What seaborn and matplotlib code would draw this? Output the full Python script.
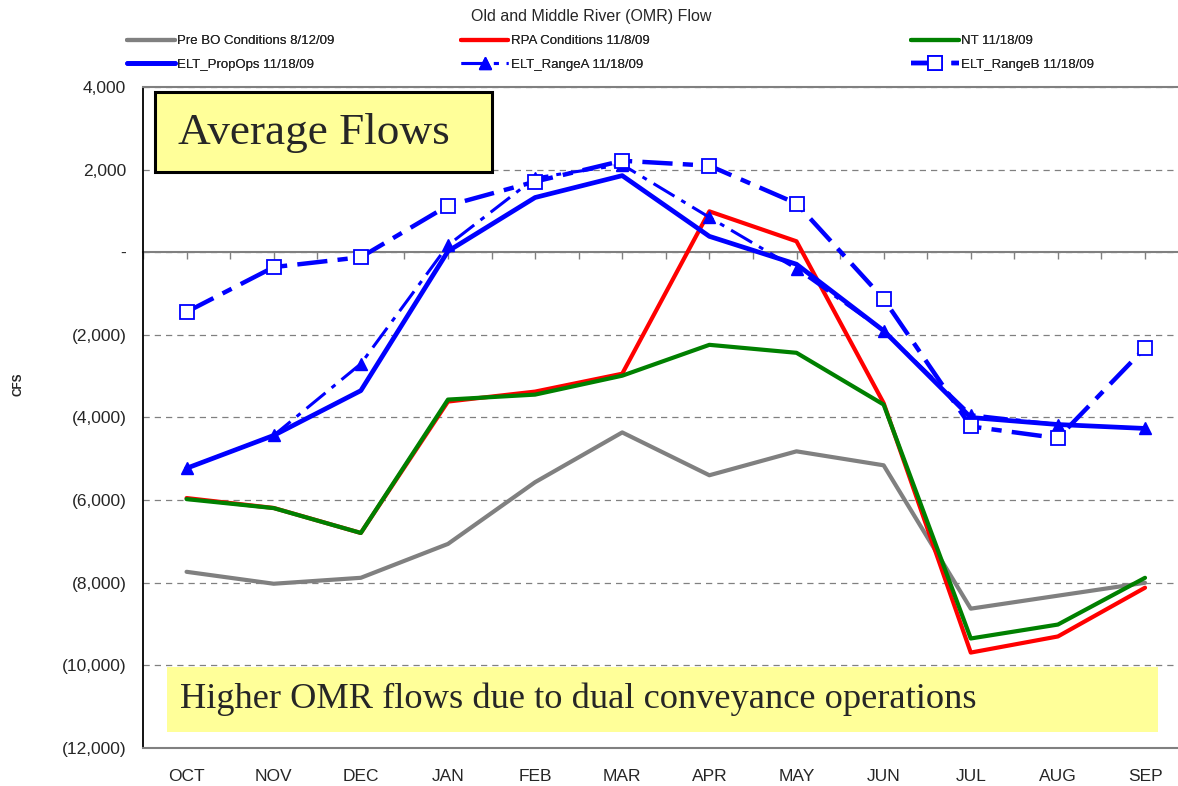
import numpy as np
import pandas as pd
import matplotlib
matplotlib.use("Agg")
import matplotlib.pyplot as plt
from matplotlib.patches import Rectangle
from matplotlib.ticker import FuncFormatter
import seaborn as sns

months = ["OCT", "NOV", "DEC", "JAN", "FEB", "MAR", "APR", "MAY", "JUN", "JUL", "AUG", "SEP"]

pre_bo = [-7735, -8024, -7880, -7060, -5566, -4361, -5398, -4819, -5157, -8627, -8313, -8000]
rpa = [-5950, -6190, -6795, -3614, -3373, -2940, 990, 265, -3650, -9690, -9300, -8120]
nt = [-5976, -6193, -6795, -3566, -3446, -2988, -2241, -2434, -3687, -9349, -9012, -7880]
elt_propops = [-5229, -4434, -3350, 25, 1325, 1855, 385, -290, -1900, -4000, -4170, -4265]
elt_range_a = [-5229, -4434, -2700, 170, 1800, 2120, 845, -400, -1900, -3930, -4170, -4265]
elt_range_b = [-1445, -360, -120, 1130, 1710, 2215, 2095, 1180, -1130, -4217, -4500, -2315]

labels = ["Pre BO Conditions 8/12/09", "RPA Conditions 11/8/09", "NT 11/18/09",
          "ELT_PropOps 11/18/09", "ELT_RangeA 11/18/09", "ELT_RangeB 11/18/09"]

sns.set_style("white")
plt.rcParams['font.family'] = ['Liberation Sans', 'DejaVu Sans']

fig = plt.figure(figsize=(11.78, 7.86), dpi=100)
ax = fig.add_axes([143 / 1178, 38 / 786, 1045.6 / 1178, 661 / 786])

x = np.arange(len(months))
df = pd.DataFrame({"x": x, "pre": pre_bo, "rpa": rpa, "nt": nt,
                   "prop": elt_propops, "ra": elt_range_a, "rb": elt_range_b})

sns.lineplot(data=df, x="x", y="pre", ax=ax, color="#808080", lw=3, label=labels[0], zorder=3)
sns.lineplot(data=df, x="x", y="rpa", ax=ax, color="#FF0000", lw=3, label=labels[1], zorder=4)
sns.lineplot(data=df, x="x", y="nt", ax=ax, color="#008000", lw=3, label=labels[2], zorder=5)
sns.lineplot(data=df, x="x", y="prop", ax=ax, color="#0000FF", lw=3.4, label=labels[3], zorder=6)
sns.lineplot(data=df, x="x", y="ra", ax=ax, color="#0000FF", lw=2.2, label=labels[4], zorder=7,
             linestyle=(0, (8, 2.6, 1.6, 2.6)), marker="^", markersize=9,
             markerfacecolor="#0000FF", markeredgecolor="#0000FF", markeredgewidth=1)
sns.lineplot(data=df, x="x", y="rb", ax=ax, color="#0000FF", lw=3.2, label=labels[5], zorder=8,
             linestyle=(0, (6.8, 2.3, 2.3, 2.3)), marker="s", markersize=10,
             markerfacecolor="white", markeredgecolor="#0000FF", markeredgewidth=1.3)

ax.set_xlim(-0.5, 11.5)
ax.set_ylim(-12000, 4000)
ax.set_xticks(x, months)
ax.set_yticks(np.arange(-12000, 4001, 2000))

def fmt(v, pos):
    if v == 0:
        return "-"
    if v < 0:
        return "({:,.0f})".format(-v)
    return "{:,.0f}".format(v)

ax.yaxis.set_major_formatter(FuncFormatter(fmt))
ax.tick_params(axis="x", length=0, labelsize=12.5, pad=15)
ax.tick_params(axis="y", length=4, width=1, direction="out", color="black", labelsize=12.5, pad=8)
ax.yaxis.grid(True, color="#808080", linestyle=(0, (5, 4)), lw=0.9)
ax.xaxis.grid(False)
for side in ["top", "bottom"]:
    ax.spines[side].set_color("#808080")
    ax.spines[side].set_linewidth(1.5)
ax.spines["left"].set_color("black")
ax.spines["left"].set_linewidth(1.3)
ax.spines["right"].set_visible(False)
ax.set_xlabel("")
ax.set_ylabel("CFS", fontsize=8.5, fontweight="bold")
ax.yaxis.set_label_coords(-0.113, 0.55)

# category axis crossing at zero, tick marks between and on categories
sec = ax.secondary_xaxis(0.75)
sec.set_xticks(np.arange(-0.5, 12, 0.5))
sec.xaxis.set_ticks_position("bottom")
sec.tick_params(axis="x", direction="out", length=5, width=1, color="#808080",
                labelbottom=False, labeltop=False)
sec.spines["bottom"].set_visible(True)
sec.spines["bottom"].set_color("#808080")
sec.spines["bottom"].set_linewidth(1.5)
sec.spines["top"].set_visible(False)
sec.set_xticklabels([])

handles, labs = ax.get_legend_handles_labels()
ax.get_legend().remove()

fig.text(0.5015, 0.979, "Old and Middle River (OMR) Flow", ha="center", va="center", fontsize=11.5)
leg_kw = dict(frameon=False, fontsize=9.5, handlelength=3.6, handletextpad=0.2,
              labelspacing=0.85, borderaxespad=0, borderpad=0)
for i, xpos in enumerate([127 / 1178, 461 / 1178, 911 / 1178]):
    lg = fig.legend([handles[i], handles[i + 3]], [labs[i], labs[i + 3]],
                    loc="upper left", bbox_to_anchor=(xpos, 1 - 35 / 786), **leg_kw)
    fig.add_artist(lg)

# annotation boxes
fig.add_artist(Rectangle((155 / 1178, 1 - 172 / 786), 337 / 1178, 80 / 786, transform=fig.transFigure,
                         facecolor="#FFFF99", edgecolor="black", lw=2.2, zorder=10))
fig.text(178 / 1178, 1 - 133 / 786, "Average Flows", ha="left", va="center",
         fontsize=32.5, family="Liberation Serif", zorder=11)
fig.add_artist(Rectangle((167 / 1178, 1 - 732 / 786), 991 / 1178, 65 / 786, transform=fig.transFigure,
                         facecolor="#FFFF99", edgecolor="none", zorder=10))
fig.text(180 / 1178, 1 - 699 / 786, "Higher OMR flows due to dual conveyance operations", ha="left",
         va="center", fontsize=26.2, family="Liberation Serif", zorder=11)

fig.savefig("out.png", dpi=100)
